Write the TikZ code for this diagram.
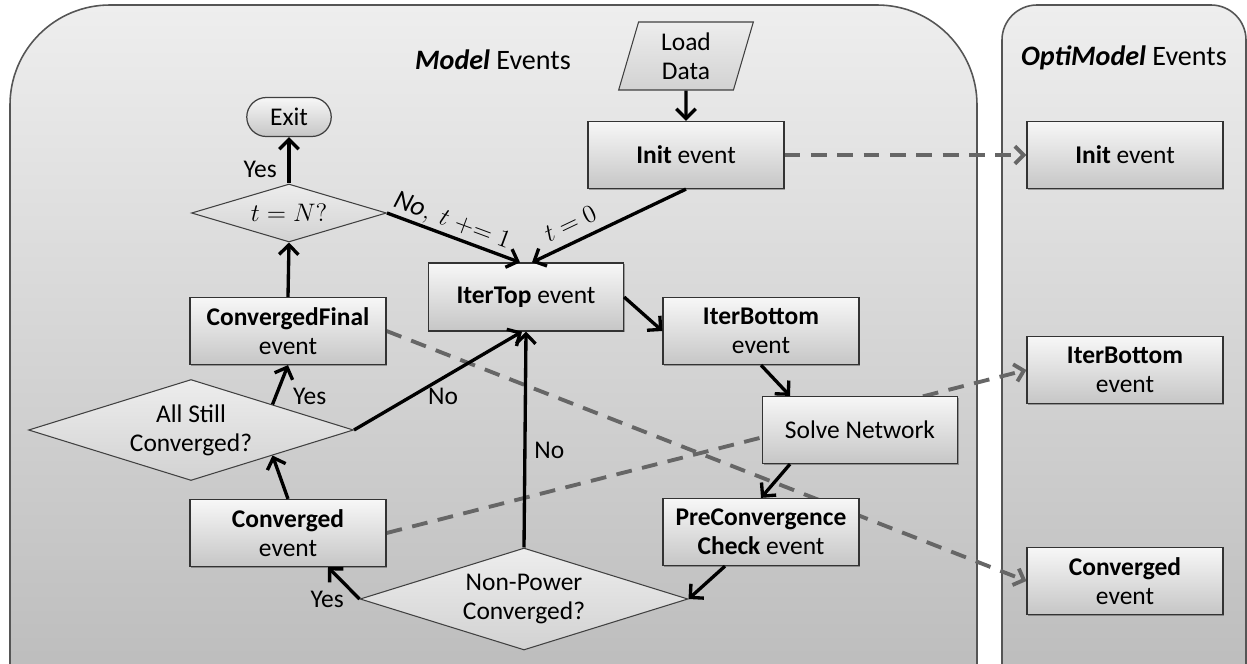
\documentclass[tikz,border=0pt]{standalone}
\usepackage{fontspec}
\setmainfont{Carlito}
\usetikzlibrary{arrows.meta,shapes.geometric,shapes.misc,calc,shadows}
\pgfdeclarelayer{panels}
\pgfdeclarelayer{links}
\pgfsetlayers{panels,links,main}

\definecolor{panelTop}{HTML}{EEEEEE}
\definecolor{panelBot}{HTML}{B5B5B5}
\definecolor{panelLine}{HTML}{555555}
\definecolor{boxTop}{HTML}{F7F7F7}
\definecolor{boxBot}{HTML}{C6C6C6}
\definecolor{decTop}{HTML}{EDEDED}
\definecolor{decBot}{HTML}{D2D2D2}
\definecolor{linkGray}{HTML}{666666}

\tikzset{
  every node/.style={font=\fontsize{14.5}{16.5}\selectfont},
  panel/.style={draw=panelLine, line width=0.9pt, top color=panelTop, bottom color=panelBot},
  evbox/.style={rectangle, draw=black!80, line width=0.7pt, top color=boxTop, bottom color=boxBot,
    minimum width=3.92cm, minimum height=1.34cm, align=center, inner sep=1pt,
    drop shadow={shadow xshift=0.8pt, shadow yshift=-0.8pt, opacity=0.3, fill=black}},
  decision/.style={diamond, draw=black!75, line width=0.6pt, top color=decTop, bottom color=decBot,
    inner sep=0pt, align=center},
  flow/.style={line width=1.9pt, -{Straight Barb[length=5.5pt,width=11pt]}},
  link/.style={draw=linkGray, line width=2.2pt, dash pattern=on 9pt off 6pt,
    -{Straight Barb[length=5pt,width=10pt]}},
  lbl/.style={inner sep=2pt},
  mathlbl/.style={inner sep=1pt, font=\fontsize{15.5}{17}\selectfont},
  title/.style={font=\fontsize{16}{19}\selectfont}
}

\begin{document}
\begin{tikzpicture}[x=0.02cm, y=-0.02cm]
\useasboundingbox (0,0) rectangle (1247,663);
\clip (0,0) rectangle (1247,663);

% swim-lane panels
\begin{pgfonlayer}{panels}
  \fill[white] (0,0) rectangle (1247,663);
  \path[panel, rounded corners=2cm] (10,5) rectangle (977,780);
  \path[panel, rounded corners=0.7cm] (1002,5) rectangle (1246,780);
\end{pgfonlayer}

\node[title] (mtitle) at (493,60) {\textbf{\textit{Model}} Events};
\node[title] (otitle) at (1124,58) {\textbf{\textit{OptiModel}} Events};

% Model events
\node[trapezium, trapezium left angle=77.5, trapezium right angle=102.5, trapezium stretches=true,
  draw=black!75, line width=0.6pt, top color=decTop, bottom color=decBot,
  minimum width=2.7cm, minimum height=1.36cm, align=center, inner sep=1pt] (load) at (686,56) {Load\\Data};
\node[evbox] (init) at (686,155) {\textbf{Init} event};
\node[rounded rectangle, draw=black!75, line width=0.7pt, top color=boxTop, bottom color=boxBot,
  minimum width=1.76cm, minimum height=0.78cm, inner sep=1pt] (exit) at (289,117) {Exit};
\node[decision, aspect=3.36, minimum width=3.9cm, minimum height=1.16cm, font=\fontsize{15.5}{17}\selectfont] (tn) at (289,213) {$t = N?$};
\node[evbox] (cfinal) at (288,331) {\textbf{ConvergedFinal}\\event};
\node[decision, aspect=3.22, minimum width=6.5cm, minimum height=2.02cm] (allstill) at (191,430) {All Still\\Converged?};
\node[evbox, minimum width=3.9cm, minimum height=1.36cm] (itertop) at (526,297) {\textbf{IterTop} event};
\node[evbox] (iterbot) at (761,331) {\textbf{IterBottom}\\event};
\node[evbox, minimum width=3.9cm] (solve) at (860,430) {Solve Network};
\node[evbox] (preconv) at (761,532) {\textbf{PreConvergence}\\\textbf{Check} event};
\node[evbox] (conv) at (288,533) {\textbf{Converged}\\event};
\node[decision, aspect=3.22, minimum width=6.56cm, minimum height=2.04cm] (nonpower) at (524,599) {Non-Power\\Converged?};

% OptiModel events
\node[evbox] (optiinit) at (1125,155) {\textbf{Init} event};
\node[evbox] (optiiter) at (1125,370) {\textbf{IterBottom}\\event};
\node[evbox] (opticonv) at (1125,581) {\textbf{Converged}\\event};

% control flow
\draw[flow] (load) -- (init);
\draw[flow] (init.south) -- ($(itertop.north)+(6,0)$)
  node[mathlbl, pos=0.7, sloped, above=4pt] {$t = 0$};
\draw[flow] (tn.east) -- ($(itertop.north)+(-6,0)$)
  node[mathlbl, pos=0.45, sloped, above=0pt] {$\mathit{No},\ t \mathrel{+{=}} 1$};
\draw[flow] (tn.north) -- (exit.south) node[lbl, pos=0.3, left=4pt] {Yes};
\draw[flow] (cfinal.north) -- (tn.south);
\draw[flow] (allstill.north east) -- (cfinal.south) node[lbl, pos=0.2, right=7pt] {Yes};
\draw[flow] (conv.north) -- (allstill.south east);
\draw[flow] (nonpower.west) -- ($(conv.south)+(40,0)$) node[lbl, at start, left=6pt] {Yes};
\draw[flow] (allstill.east) -- ($(itertop.south)+(-4,0)$) node[lbl, pos=0.53, below=3pt] {No};
\draw[flow] (nonpower.north) -- (itertop.south) node[lbl, pos=0.45, right=2.5pt] {No};
\draw[flow] (itertop.east) -- (iterbot.west);
\draw[flow] (iterbot.south) -- ($(solve.north)+(-70,0)$);
\draw[flow] ($(solve.south)+(-70,0)$) -- (preconv.north);
\draw[flow] ($(preconv.south)+(-36,0)$) -- (nonpower.east);

% event forwarding to the optimisation model
\begin{pgfonlayer}{links}
  \draw[link] (init.east) -- (optiinit.west);
  \draw[link] (conv.east) -- (optiiter.west);
  \draw[link] (cfinal.east) -- (opticonv.west);
\end{pgfonlayer}
\end{tikzpicture}
\end{document}
